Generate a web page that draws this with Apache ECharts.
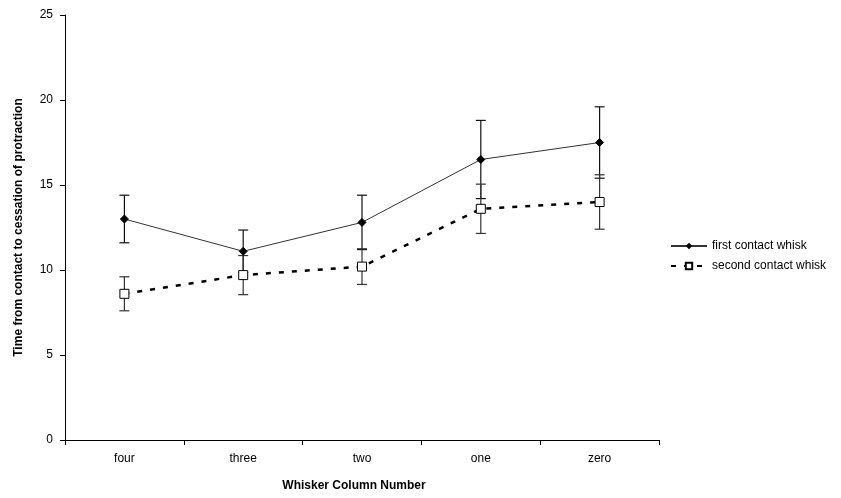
<!DOCTYPE html>
<html>
<head>
<meta charset="utf-8">
<script src="https://cdn.jsdelivr.net/npm/echarts@6/dist/echarts.min.js"></script>
<style>
  html, body { margin: 0; padding: 0; background: #fff; }
  #chart { width: 841px; height: 498px; }
</style>
</head>
<body>
<div id="chart"></div>
<script>
const categories = ['four', 'three', 'two', 'one', 'zero'];
const firstMean = [13.0, 11.1, 12.8, 16.5, 17.5];
const firstErr = [1.4, 1.25, 1.6, 2.3, 2.1];
const secondMean = [8.6, 9.7, 10.2, 13.6, 14.0];
const secondErr = [1.0, 1.15, 1.05, 1.45, 1.6];

const font = '"Liberation Sans", Arial, sans-serif';

// error bar rows: [category index, low, high]
function errRows(mean, err) {
  return mean.map((m, i) => [i, m - err[i], m + err[i]]);
}

function renderErr(color) {
  return function (params, api) {
    const top = api.coord([api.value(0), api.value(2)]);
    const bot = api.coord([api.value(0), api.value(1)]);
    const hw = 5;
    const style = { stroke: color, lineWidth: 1.2 };
    return {
      type: 'group',
      children: [
        { type: 'line', shape: { x1: top[0], y1: top[1], x2: bot[0], y2: bot[1] }, style: style },
        { type: 'line', shape: { x1: top[0] - hw, y1: top[1], x2: top[0] + hw, y2: top[1] }, style: style },
        { type: 'line', shape: { x1: bot[0] - hw, y1: bot[1], x2: bot[0] + hw, y2: bot[1] }, style: style }
      ]
    };
  };
}

const chart = echarts.init(document.getElementById('chart'));
chart.setOption({
  animation: false,
  backgroundColor: '#fff',
  textStyle: { fontFamily: font },
  grid: { left: 65, right: 182, top: 15, bottom: 58 },
  legend: {
    data: ['first contact whisk', 'second contact whisk'],
    orient: 'vertical',
    left: 665,
    top: 235,
    itemWidth: 36,
    itemHeight: 8,
    itemGap: 8,
    textStyle: { fontSize: 12, color: '#000', fontFamily: font }
  },
  xAxis: {
    type: 'category',
    data: categories,
    boundaryGap: true,
    name: 'Whisker Column Number',
    nameLocation: 'middle',
    nameGap: 40,
    nameTextStyle: { fontSize: 12, fontWeight: 'bold', color: '#000', fontFamily: font, padding: [0, 16, 0, 0] },
    axisLine: { lineStyle: { color: '#000', width: 1 } },
    axisTick: { show: true, length: 5, alignWithLabel: false, lineStyle: { color: '#000' } },
    axisLabel: { fontSize: 12, color: '#000', margin: 13 },
    splitLine: { show: false }
  },
  yAxis: {
    type: 'value',
    min: 0,
    max: 25,
    interval: 5,
    name: 'Time from contact to cessation of protraction',
    nameLocation: 'middle',
    nameGap: 40,
    nameTextStyle: { fontSize: 12, fontWeight: 'bold', color: '#000', fontFamily: font },
    axisLine: { show: true, lineStyle: { color: '#000', width: 1 } },
    axisTick: { show: true, length: 5, lineStyle: { color: '#000' } },
    axisLabel: { fontSize: 12, color: '#000', margin: 12 },
    splitLine: { show: false }
  },
  series: [
    {
      name: 'first contact whisk',
      type: 'line',
      data: firstMean,
      symbol: 'diamond',
      symbolSize: 8,
      lineStyle: { color: '#333', width: 1 },
      itemStyle: { color: '#000', borderColor: '#000' },
      z: 3
    },
    {
      name: 'second contact whisk',
      type: 'line',
      data: secondMean,
      symbol: 'rect',
      symbolSize: 9,
      lineStyle: { color: '#000', width: 2.5, type: [5, 8] },
      itemStyle: { color: '#fff', borderColor: '#000', borderWidth: 1 },
      z: 3
    },
    {
      type: 'custom',
      data: errRows(firstMean, firstErr),
      renderItem: renderErr('#111'),
      encode: { x: 0, y: [1, 2] },
      z: 2
    },
    {
      type: 'custom',
      data: errRows(secondMean, secondErr),
      renderItem: renderErr('#333'),
      encode: { x: 0, y: [1, 2] },
      z: 2
    }
  ]
});
</script>
</body>
</html>
